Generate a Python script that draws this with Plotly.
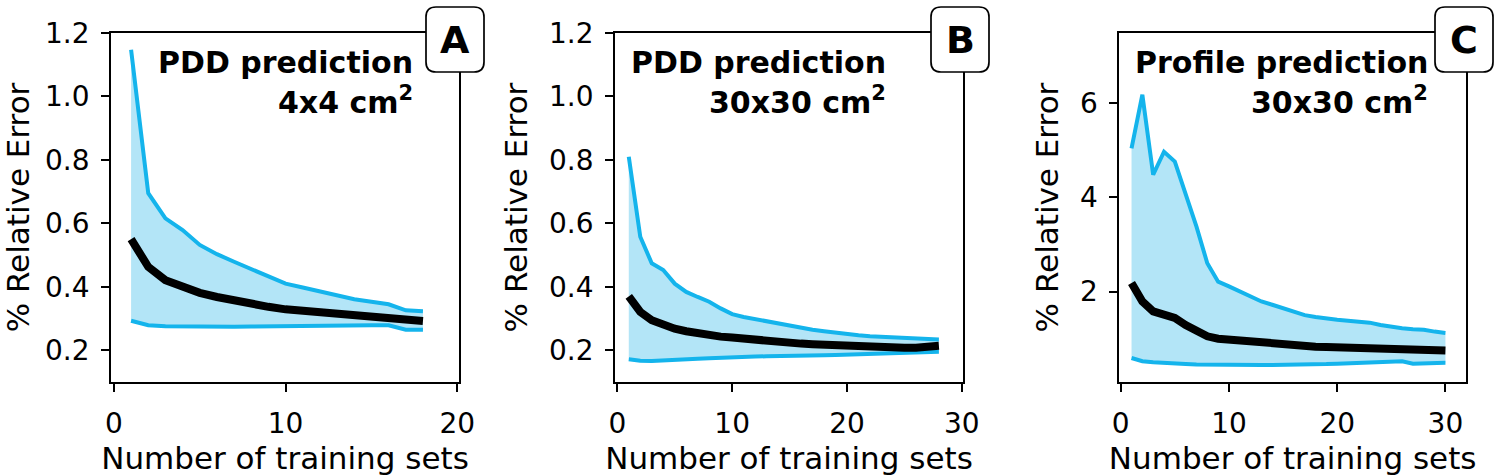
import plotly.graph_objects as go

# ---------------- data ----------------
x_A = list(range(1, 19))
upper_A = [1.147, 0.695, 0.616, 0.579, 0.532, 0.503, 0.479, 0.455, 0.432, 0.41,
           0.398, 0.386, 0.374, 0.361, 0.353, 0.345, 0.326, 0.323]
mean_A = [0.55, 0.463, 0.421, 0.398, 0.381, 0.368, 0.356, 0.345, 0.337, 0.329,
          0.324, 0.32, 0.316, 0.311, 0.308, 0.303, 0.292, 0.292]
lower_A = [0.293, 0.279, 0.276, 0.275, 0.274, 0.274, 0.274, 0.275, 0.276, 0.277,
           0.277, 0.277, 0.278, 0.278, 0.279, 0.279, 0.265, 0.265]

x_B = list(range(1, 29))
upper_B = [0.81, 0.558, 0.474, 0.453, 0.41, 0.384, 0.368, 0.353, 0.332, 0.314,
           0.305, 0.298, 0.292, 0.284, 0.277, 0.27, 0.265, 0.26, 0.255, 0.25,
           0.247, 0.244, 0.242, 0.24, 0.238, 0.235, 0.234, 0.234]
mean_B = [0.37, 0.321, 0.295, 0.279, 0.268, 0.26, 0.253, 0.247, 0.243, 0.24,
          0.236, 0.232, 0.229, 0.226, 0.223, 0.221, 0.219, 0.217, 0.215, 0.214,
          0.212, 0.211, 0.21, 0.208, 0.208, 0.208, 0.21, 0.214]
lower_B = [0.172, 0.167, 0.166, 0.167, 0.169, 0.171, 0.173, 0.175, 0.177, 0.179,
           0.18, 0.18, 0.181, 0.181, 0.181, 0.182, 0.183, 0.184, 0.185, 0.186,
           0.187, 0.188, 0.188, 0.189, 0.19, 0.191, 0.192, 0.195]

x_C = list(range(1, 31))
upper_C = [5.04, 6.18, 4.48, 4.97, 4.76, 4.05, 3.38, 2.6, 2.21, 2.11,
           2.0, 1.9, 1.79, 1.72, 1.65, 1.58, 1.5, 1.46, 1.42, 1.4,
           1.38, 1.36, 1.34, 1.29, 1.25, 1.22, 1.2, 1.19, 1.15, 1.12]
mean_C = [2.18, 1.79, 1.58, 1.53, 1.44, 1.29, 1.15, 1.05, 1.0, 0.98,
          0.955, 0.93, 0.905, 0.88, 0.87, 0.855, 0.845, 0.83, 0.825, 0.82,
          0.815, 0.81, 0.805, 0.8, 0.8, 0.8, 0.76, 0.755, 0.752, 0.75]
lower_C = [0.59, 0.52, 0.5, 0.48, 0.47, 0.46, 0.45, 0.445, 0.44, 0.44,
           0.44, 0.44, 0.44, 0.44, 0.44, 0.445, 0.45, 0.455, 0.46, 0.47,
           0.48, 0.49, 0.495, 0.5, 0.51, 0.52, 0.47, 0.48, 0.49, 0.49]

panel_letters = ["A", "B", "C"]
titles_line1 = ["PDD prediction", "PDD prediction", "Profile prediction"]
titles_line2 = ["4x4 cm<sup>2</sup>", "30x30 cm<sup>2</sup>", "30x30 cm<sup>2</sup>"]
x_ticks = [[0, 10, 20], [0, 10, 20, 30], [0, 10, 20, 30]]
y_ticks = [[0.2, 0.4, 0.6, 0.8, 1.0, 1.2], [0.2, 0.4, 0.6, 0.8, 1.0, 1.2], [2, 4, 6]]
x_label = "Number of training sets"
y_label = "% Relative Error"

# ---------------- style ----------------
W, H = 1500, 476
FONT = "DejaVu Sans"
LINE_C = "#14b4ec"
FILL_C = "#b3e5f7"
domains_x = [(111 / W, 459 / W), (615 / W, 963 / W), (1119.3 / W, 1466 / W)]
dom_y = (1 - 382 / H, 1 - 33 / H)
x_ranges = [[-0.17, 20.1], [-0.2, 30.1], [-0.13, 31.9]]
y_ranges = [[0.1, 1.2], [0.1, 1.2], [0.08, 7.49]]
text_right = [415, 888, 1430]
box_cx = [455, 960, 1464]
box_cy = 39.5

series = [(x_A, lower_A, upper_A, mean_A), (x_B, lower_B, upper_B, mean_B),
          (x_C, lower_C, upper_C, mean_C)]

fig = go.Figure()
annotations = []
shapes = []
for i, (xs, lo, up, mn) in enumerate(series):
    xa = "x" if i == 0 else f"x{i+1}"
    ya = "y" if i == 0 else f"y{i+1}"
    fig.add_trace(go.Scatter(x=xs, y=lo, mode="lines", line=dict(color=LINE_C, width=4),
                             xaxis=xa, yaxis=ya, showlegend=False))
    fig.add_trace(go.Scatter(x=xs, y=up, mode="lines", line=dict(color=LINE_C, width=4),
                             fill="tonexty", fillcolor=FILL_C,
                             xaxis=xa, yaxis=ya, showlegend=False))
    fig.add_trace(go.Scatter(x=xs, y=mn, mode="lines", line=dict(color="black", width=8),
                             xaxis=xa, yaxis=ya, showlegend=False))

    axis_common = dict(showline=True, linecolor="black", linewidth=1.7, mirror=True,
                       ticks="outside", ticklen=8, tickwidth=1.6, tickcolor="black",
                       showgrid=False, zeroline=False, automargin=False,
                       tickfont=dict(family=FONT, size=28, color="black"))
    fig.update_layout({
        ("xaxis" if i == 0 else f"xaxis{i+1}"): dict(
            domain=list(domains_x[i]), range=x_ranges[i], tickvals=x_ticks[i],
            anchor=ya, ticklabelstandoff=8,
            title=dict(text=x_label, font=dict(family=FONT, size=31, color="black"), standoff=8),
            **axis_common),
        ("yaxis" if i == 0 else f"yaxis{i+1}"): dict(
            domain=list(dom_y), range=y_ranges[i], tickvals=y_ticks[i],
            tickformat=".1f" if i < 2 else "d",
            anchor=xa, ticklabelstandoff=6,
            title=dict(text=y_label, font=dict(family=FONT, size=31, color="black"), standoff=12),
            **axis_common),
    })

    annotations.append(dict(text=f"<b>{titles_line1[i]}</b>", xref="paper", yref="paper",
                            x=text_right[i] / W, y=1 - 63 / H, xanchor="right", yanchor="middle",
                            showarrow=False, font=dict(family=FONT, size=30, color="black")))
    annotations.append(dict(text=f"<b>{titles_line2[i]}</b>", xref="paper", yref="paper",
                            x=text_right[i] / W, y=1 - 100 / H, xanchor="right", yanchor="middle",
                            showarrow=False, font=dict(family=FONT, size=30, color="black")))
    annotations.append(dict(text=f"<b>{panel_letters[i]}</b>", xref="paper", yref="paper",
                            x=box_cx[i] / W, y=1 - box_cy / H, xanchor="center", yanchor="middle",
                            showarrow=False, font=dict(family=FONT, size=38, color="black")))
    hw, hh, r = 29, 32.5, 10
    path = (f"M {-hw + r},{-hh} L {hw - r},{-hh} Q {hw},{-hh} {hw},{-hh + r} "
            f"L {hw},{hh - r} Q {hw},{hh} {hw - r},{hh} L {-hw + r},{hh} "
            f"Q {-hw},{hh} {-hw},{hh - r} L {-hw},{-hh + r} Q {-hw},{-hh} {-hw + r},{-hh} Z")
    shapes.append(dict(type="path", xref="paper", yref="paper", xsizemode="pixel",
                       ysizemode="pixel", xanchor=box_cx[i] / W, yanchor=1 - box_cy / H,
                       path=path, fillcolor="white", line=dict(color="black", width=1.7),
                       layer="above"))

fig.update_layout(width=W, height=H, margin=dict(l=0, r=0, t=0, b=0),
                  paper_bgcolor="white", plot_bgcolor="white",
                  font=dict(family=FONT, color="black"),
                  annotations=annotations, shapes=shapes)

fig.write_html("out.html", config={"displayModeBar": False},
               post_script="document.body.style.margin='0px';document.body.style.overflow='hidden';")
